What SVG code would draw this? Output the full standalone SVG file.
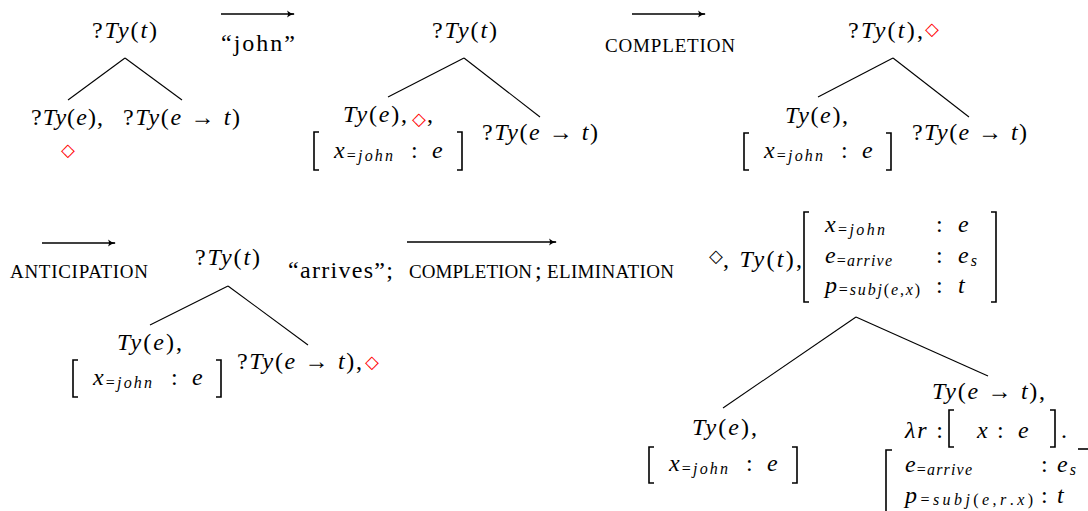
<svg xmlns="http://www.w3.org/2000/svg" width="1088" height="511" viewBox="0 0 1088 511" font-family="Liberation Serif">
<defs>
<style>
text { font-size: 24px; fill: #000; }
.i { font-style: italic; }
.sub { font-size: 16px; }
.sc { font-size: 19px; }
.dm { font-size: 18px; text-anchor: middle; }
.red { fill: #ff0000; }
.edge { stroke: #000; stroke-width: 1.1; fill: none; }
.br { stroke: #000; stroke-width: 1.6; fill: none; }
.arr { stroke: #000; stroke-width: 1.7; fill: none; marker-end: url(#ah); }
</style>
<marker id="ah" markerWidth="10" markerHeight="8" refX="7" refY="4" orient="auto" markerUnits="userSpaceOnUse">
<path d="M0,0.5 Q3,3.5 8,4 Q3,4.5 0,7.5 Q2,4 0,0.5 Z" fill="#000"/>
</marker>
</defs>

<g id="connectors">
<line class="edge" x1="125" y1="58" x2="68" y2="100"/>
<line class="edge" x1="125" y1="58" x2="182" y2="100"/>
<line class="edge" x1="464" y1="58" x2="388" y2="97"/>
<line class="edge" x1="464" y1="58" x2="540" y2="117"/>
<line class="edge" x1="893" y1="58" x2="818" y2="97"/>
<line class="edge" x1="893" y1="58" x2="969" y2="117"/>
<line class="edge" x1="228" y1="286" x2="150" y2="325"/>
<line class="edge" x1="228" y1="286" x2="308" y2="345"/>
<line class="edge" x1="856" y1="317" x2="723" y2="408"/>
<line class="edge" x1="856" y1="317" x2="988" y2="376"/>
<line class="arr" x1="221" y1="14" x2="294" y2="14"/>
<line class="arr" x1="632" y1="14" x2="705" y2="14"/>
<line class="arr" x1="42" y1="243" x2="115" y2="243"/>
<line class="arr" x1="407" y1="242" x2="556" y2="242"/>
</g>

<g id="labels" font-family="Liberation Serif">
<text x="221" y="51" textLength="74" lengthAdjust="spacing">“john”</text>
<text class="sc" x="605" y="52" textLength="130" lengthAdjust="spacing">COMPLETION</text>
<text class="sc" x="10" y="278" textLength="138" lengthAdjust="spacing">ANTICIPATION</text>
<text x="288" y="278" textLength="105" lengthAdjust="spacing">“arrives”;</text>
<text class="sc" x="409" y="278" textLength="123" lengthAdjust="spacing">COMPLETION</text>
<text x="535" y="278">;</text>
<text class="sc" x="547" y="278" textLength="127" lengthAdjust="spacing">ELIMINATION</text>
</g>

<g id="tree1" font-family="Liberation Serif">
<g id="t1-root"><text x="92" y="38" textLength="65" lengthAdjust="spacing">?<tspan class="i">Ty</tspan>(<tspan class="i">t</tspan>)</text></g>
<g id="t1-left">
<text x="31" y="125" textLength="72" lengthAdjust="spacing">?<tspan class="i">Ty</tspan>(<tspan class="i">e</tspan>),</text>
<text class="dm red" font-family="DejaVu Sans" x="68" y="156">◇</text>
</g>
<g id="t1-right"><text x="123" y="125" textLength="117" lengthAdjust="spacing">?<tspan class="i">Ty</tspan>(<tspan class="i">e</tspan> → <tspan class="i">t</tspan>)</text></g>
</g>

<g id="tree2" font-family="Liberation Serif">
<g id="t2-root"><text x="432" y="38" textLength="65" lengthAdjust="spacing">?<tspan class="i">Ty</tspan>(<tspan class="i">t</tspan>)</text></g>
<g id="t2-left">
<text x="343" y="122" textLength="64" lengthAdjust="spacing"><tspan class="i">Ty</tspan>(<tspan class="i">e</tspan>),</text>
<text class="dm red" font-family="DejaVu Sans" x="419" y="125">◇</text>
<text x="427" y="122">,</text>
<path class="br" d="M319,132 H314 V170 H319 M457,132 H462 V170 H457"/>
<text x="334" y="158" textLength="59" lengthAdjust="spacing"><tspan class="i">x</tspan><tspan class="sub" dy="3">=<tspan class="i">john</tspan></tspan></text>
<text x="411" y="158">:</text>
<text class="i" x="432" y="158">e</text>
</g>
<g id="t2-right"><text x="482" y="140" textLength="116" lengthAdjust="spacing">?<tspan class="i">Ty</tspan>(<tspan class="i">e</tspan> → <tspan class="i">t</tspan>)</text></g>
</g>

<g id="tree3" font-family="Liberation Serif">
<g id="t3-root">
<text x="848" y="38" textLength="75" lengthAdjust="spacing">?<tspan class="i">Ty</tspan>(<tspan class="i">t</tspan>),</text>
<text class="dm red" font-family="DejaVu Sans" x="932" y="35">◇</text>
</g>
<g id="t3-left">
<text x="785" y="123" textLength="63" lengthAdjust="spacing"><tspan class="i">Ty</tspan>(<tspan class="i">e</tspan>),</text>
<path class="br" d="M749,133 H744 V170 H749 M886,133 H891 V170 H886"/>
<text x="764" y="158" textLength="59" lengthAdjust="spacing"><tspan class="i">x</tspan><tspan class="sub" dy="3">=<tspan class="i">john</tspan></tspan></text>
<text x="841" y="158">:</text>
<text class="i" x="862" y="158">e</text>
</g>
<g id="t3-right"><text x="912" y="140" textLength="115" lengthAdjust="spacing">?<tspan class="i">Ty</tspan>(<tspan class="i">e</tspan> → <tspan class="i">t</tspan>)</text></g>
</g>

<g id="tree4" font-family="Liberation Serif">
<g id="t4-root"><text x="195" y="265" textLength="65" lengthAdjust="spacing">?<tspan class="i">Ty</tspan>(<tspan class="i">t</tspan>)</text></g>
<g id="t4-left">
<text x="117" y="350" textLength="65" lengthAdjust="spacing"><tspan class="i">Ty</tspan>(<tspan class="i">e</tspan>),</text>
<path class="br" d="M78,360 H73 V397 H78 M216,360 H221 V397 H216"/>
<text x="93" y="385" textLength="59" lengthAdjust="spacing"><tspan class="i">x</tspan><tspan class="sub" dy="3">=<tspan class="i">john</tspan></tspan></text>
<text x="171" y="385">:</text>
<text class="i" x="192" y="385">e</text>
</g>
<g id="t4-right">
<text x="237" y="369" textLength="125" lengthAdjust="spacing">?<tspan class="i">Ty</tspan>(<tspan class="i">e</tspan> → <tspan class="i">t</tspan>),</text>
<text class="dm red" font-family="DejaVu Sans" x="372" y="368">◇</text>
</g>
</g>

<g id="tree5" font-family="Liberation Serif">
<g id="t5-root">
<text class="dm" font-family="DejaVu Sans" x="716" y="262">◇</text>
<text x="723" y="267" textLength="79" lengthAdjust="spacing">, <tspan class="i">Ty</tspan>(<tspan class="i">t</tspan>),</text>
<path class="br" d="M809,212 H804 V302 H809 M991,212 H996 V302 H991"/>
<text x="825" y="232" textLength="60" lengthAdjust="spacing"><tspan class="i">x</tspan><tspan class="sub" dy="3">=<tspan class="i">john</tspan></tspan></text>
<text x="936" y="232">:</text>
<text class="i" x="958" y="232">e</text>
<text x="825" y="263" textLength="67" lengthAdjust="spacing"><tspan class="i">e</tspan><tspan class="sub" dy="3">=<tspan class="i">arrive</tspan></tspan></text>
<text x="936" y="263">:</text>
<text x="958" y="263" textLength="19" lengthAdjust="spacing"><tspan class="i">e</tspan><tspan class="sub i" dy="3">s</tspan></text>
<text x="825" y="293" textLength="95" lengthAdjust="spacing"><tspan class="i">p</tspan><tspan class="sub" dy="2">=<tspan class="i">subj</tspan>(<tspan class="i">e</tspan>,<tspan class="i">x</tspan>)</tspan></text>
<text x="936" y="293">:</text>
<text class="i" x="958" y="293">t</text>
</g>
<g id="t5-left">
<text x="692" y="435" textLength="65" lengthAdjust="spacing"><tspan class="i">Ty</tspan>(<tspan class="i">e</tspan>),</text>
<path class="br" d="M654,447 H649 V483 H654 M792,447 H797 V483 H792"/>
<text x="669" y="471" textLength="59" lengthAdjust="spacing"><tspan class="i">x</tspan><tspan class="sub" dy="3">=<tspan class="i">john</tspan></tspan></text>
<text x="746" y="471">:</text>
<text class="i" x="767" y="471">e</text>
</g>
<g id="t5-right">
<text x="932" y="399" textLength="113" lengthAdjust="spacing"><tspan class="i">Ty</tspan>(<tspan class="i">e</tspan> → <tspan class="i">t</tspan>),</text>
<text x="905" y="438" textLength="38" lengthAdjust="spacing"><tspan class="i">λr</tspan> :</text>
<path class="br" d="M954,410 H949 V447 H954 M1050,410 H1055 V447 H1050"/>
<text class="i" x="977" y="438">x</text>
<text x="997" y="438">:</text>
<text class="i" x="1018" y="438">e</text>
<text x="1061" y="438">.</text>
<path class="br" d="M1078,449 H1088"/>
<path class="br" d="M892,450 H886 V515"/>
<text x="905" y="472" textLength="67" lengthAdjust="spacing"><tspan class="i">e</tspan><tspan class="sub" dy="3">=<tspan class="i">arrive</tspan></tspan></text>
<text x="1041" y="472">:</text>
<text x="1057" y="472" textLength="19" lengthAdjust="spacing"><tspan class="i">e</tspan><tspan class="sub i" dy="3">s</tspan></text>
<text x="905" y="503" textLength="128" lengthAdjust="spacing"><tspan class="i">p</tspan><tspan class="sub" dy="2">=<tspan class="i">subj</tspan>(<tspan class="i">e</tspan>,<tspan class="i">r</tspan>.<tspan class="i">x</tspan>)</tspan></text>
<text x="1041" y="503">:</text>
<text class="i" x="1057" y="503">t</text>
</g>
</g>
</svg>
